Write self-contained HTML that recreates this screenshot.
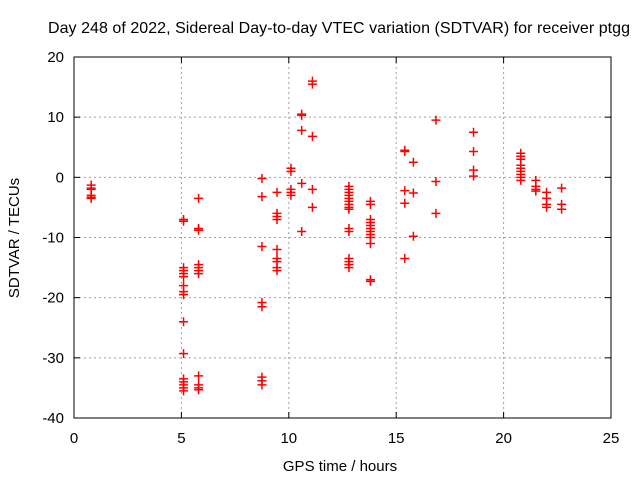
<!DOCTYPE html>
<html><head><meta charset="utf-8"><style>
body{margin:0;background:#fff;}
svg{display:block;font-family:"Liberation Sans",sans-serif;}
</style></head><body>
<svg id="chart" width="640" height="480">
<text x="339" y="33" font-size="16" text-anchor="middle" textLength="582">Day 248 of 2022, Sidereal Day-to-day VTEC variation (SDTVAR) for receiver ptgg</text>
<text x="340" y="471" font-size="15" text-anchor="middle">GPS time / hours</text>
<text x="0" y="0" font-size="15" text-anchor="middle" transform="translate(19,238) rotate(-90)">SDTVAR / TECUs</text>
<g id="grid"></g><g id="ticks"></g><g id="marks"></g>
<rect x="74" y="57" width="537" height="361" fill="none" stroke="#000" stroke-width="1"/>
</svg>
<script>
const xTicks=[0,5,10,15,20,25];
const yTicks=[-40,-30,-20,-10,0,10,20];
const groupX=[0.8,5.1,5.8,8.75,9.45,10.1,10.6,11.1,12.8,13.8,15.4,15.8,16.85,18.6,20.8,21.5,22.0,22.7];
const groupY=[
[-1.3,-1.8,-2,-3,-3.3,-3.5],
[-7,-7.3,-15,-15.5,-16,-16.5,-18,-19,-19.5,-24,-29.3,-33.5,-34,-34.5,-35,-35.5],
[-3.5,-8.5,-8.8,-14.5,-15,-15.5,-16,-33,-34.5,-35,-35.3],
[-0.2,-3.2,-11.5,-20.8,-21.5,-33.2,-33.8,-34.5],
[-2.5,-6,-6.5,-7,-12,-13.5,-14,-15,-15.5],
[1.5,1,-2,-2.5,-3],
[10.5,10.3,7.8,-1,-9],
[16,15.5,6.8,-2,-5],
[-1.5,-2,-2.5,-3,-3.5,-4,-4.5,-5,-5.3,-8.5,-9,-13.5,-14,-14.5,-15],
[-4,-4.5,-7,-7.5,-8,-8.5,-9,-9.5,-10,-11,-17,-17.3],
[4.5,4.3,-2.2,-4.3,-13.5],
[2.5,-2.6,-9.8],
[9.5,-0.7,-6],
[7.5,4.3,1.2,0.2],
[4,3.5,3,2,1.5,1,0.5,0,-0.5],
[-0.5,-1.5,-2,-2.3],
[-2.5,-3.5,-4.5,-5],
[-1.8,-4.5,-5.3]];
const NS='http://www.w3.org/2000/svg';
const L=74,R=611,T=57,B=418;
function sx(v){return L+(v-0)/25*(R-L);}
function sy(v){return B-(v+40)/60*(B-T);}
function mk(tag,attrs,parent){const e=document.createElementNS(NS,tag);for(const k in attrs)e.setAttribute(k,attrs[k]);parent.appendChild(e);return e;}
const grid=document.getElementById('grid'),ticks=document.getElementById('ticks'),marks=document.getElementById('marks');
xTicks.forEach(t=>{
 const x=sx(t);
 if(t>0&&t<25){const g=mk('line',{x1:x,x2:x,y1:T,y2:B,stroke:'#a0a0a0','stroke-dasharray':'2,3'},grid);
 
 }
 mk('line',{x1:x,x2:x,y1:B,y2:B-6,stroke:'#000'},ticks);
 mk('line',{x1:x,x2:x,y1:T,y2:T+6,stroke:'#000'},ticks);
 const tx=mk('text',{x:x,y:B+25,'font-size':15,'text-anchor':'middle'},ticks);tx.textContent=t;
 
 
});
yTicks.forEach(t=>{
 const y=sy(t);
 if(t>-40&&t<20){const g=mk('line',{x1:L,x2:R,y1:y,y2:y,stroke:'#a0a0a0','stroke-dasharray':'2,3'},grid);
 
 }
 mk('line',{x1:L,x2:L+6,y1:y,y2:y,stroke:'#000'},ticks);
 mk('line',{x1:R,x2:R-6,y1:y,y2:y,stroke:'#000'},ticks);
 const tx=mk('text',{x:L-10,y:y+5,'font-size':15,'text-anchor':'end'},ticks);tx.textContent=t;
 
 
});
groupX.forEach((gx,i)=>{
 groupY[i].forEach(v=>{
  const x=sx(gx),y=sy(v);
  const p=mk('path',{d:`M${x-4.5},${y}H${x+4.5}M${x},${y-4.5}V${y+4.5}`,stroke:'#ff0000','stroke-width':1.5,fill:'none'},marks);
  
  
 });
});
</script>
</body></html>
